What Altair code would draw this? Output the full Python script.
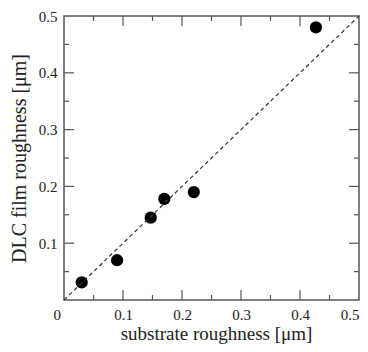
import altair as alt
import pandas as pd

# data
substrate = [0.030, 0.090, 0.147, 0.170, 0.220, 0.427]
dlc = [0.031, 0.070, 0.145, 0.178, 0.190, 0.480]
diag_x = [0.0, 0.5]
diag_y = [0.0, 0.5]
axis_values = [0, 0.1, 0.2, 0.3, 0.4, 0.5]
major_ticks = [0.1, 0.2, 0.3, 0.4]
minor_ticks = [0.05, 0.15, 0.25, 0.35, 0.45]

W, H = 295, 284
FONT = "Liberation Serif"
AXIS = "#555555"
MAJ, MIN = 10, 5

xs = alt.Scale(domain=[0, 0.5], nice=False, zero=False)
ys = alt.Scale(domain=[0, 0.5], nice=False, zero=False)

pts = pd.DataFrame({"x": substrate, "y": dlc})
diag = pd.DataFrame({"x": diag_x, "y": diag_y})
majdf = pd.DataFrame({"v": major_ticks})
mindf = pd.DataFrame({"v": minor_ticks})

x_axis = alt.Axis(
    values=axis_values, format=".1~f", title="substrate roughness [μm]",
    ticks=False, domain=False, grid=False, labelPadding=7,
    labelOffset={"condition": {"test": "datum.value == 0", "value": -11}, "value": 0},
    titleY=39, titleX=152, titleAlign="center", titleBaseline="alphabetic",
    titleFontSize=19,
)
y_axis = alt.Axis(
    values=axis_values, format=".1~f", title="DLC film roughness [μm]",
    ticks=False, domain=False, grid=False, labelPadding=7,
    labelExpr="datum.value == 0 ? '' : datum.label",
    titleX=-39, titleBaseline="alphabetic", titleFontSize=20,
)

points = alt.Chart(pts).mark_circle(color="black", opacity=1, size=150).encode(
    x=alt.X("x:Q", scale=xs, axis=x_axis),
    y=alt.Y("y:Q", scale=ys, axis=y_axis),
)

line = alt.Chart(diag).mark_line(color="#333333", strokeDash=[4, 3], strokeWidth=1.2).encode(
    x=alt.X("x:Q", scale=xs, axis=x_axis),
    y=alt.Y("y:Q", scale=ys, axis=y_axis),
)

def xticks(df, length):
    base = alt.Chart(df).mark_rule(color=AXIS, strokeWidth=1.2)
    b = base.encode(x=alt.X("v:Q", scale=xs, axis=x_axis), y=alt.value(H), y2=alt.value(H - length))
    t = base.encode(x=alt.X("v:Q", scale=xs, axis=x_axis), y=alt.value(0), y2=alt.value(length))
    return [b, t]

def yticks(df, length):
    base = alt.Chart(df).mark_rule(color=AXIS, strokeWidth=1.2)
    l = base.encode(y=alt.Y("v:Q", scale=ys, axis=y_axis), x=alt.value(0), x2=alt.value(length))
    r = base.encode(y=alt.Y("v:Q", scale=ys, axis=y_axis), x=alt.value(W), x2=alt.value(W - length))
    return [l, r]

layers = [points, line] + xticks(majdf, MAJ) + xticks(mindf, MIN) + yticks(majdf, MAJ) + yticks(mindf, MIN)

chart = alt.layer(*layers).properties(
    width=W, height=H,
    autosize=alt.AutoSizeParams(type="none"),
    padding={"left": 56, "top": 8, "right": 1, "bottom": 44},
).configure_view(
    stroke=AXIS, strokeWidth=1.5
).configure_axis(
    labelFont=FONT, labelFontSize=15, labelColor="#222222",
    titleFont=FONT, titleFontWeight="normal", titleColor="#222222",
)

chart.save("out.html", embed_options={"renderer": "svg", "actions": False})
